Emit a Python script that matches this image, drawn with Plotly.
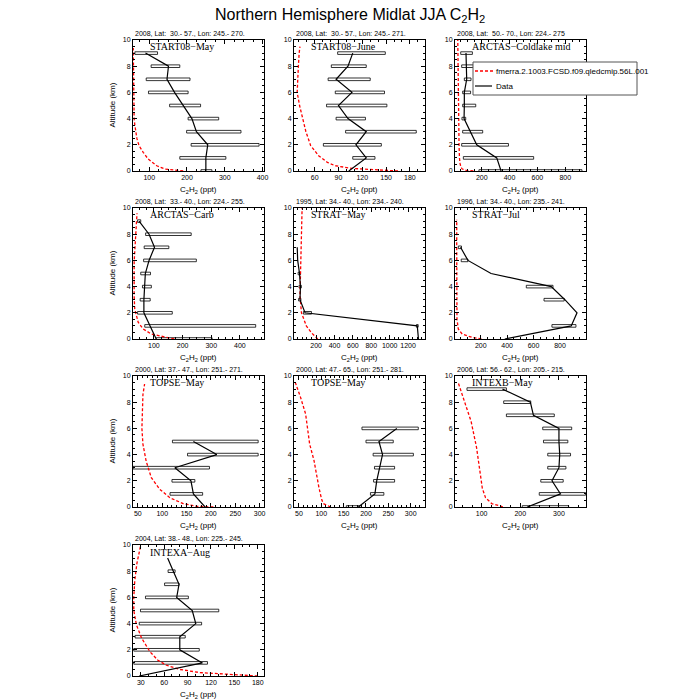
import plotly.graph_objects as go

TITLE = "Northern Hemisphere Midlat JJA C<sub>2</sub>H<sub>2</sub>"
MODEL_NAME = "fmerra.2.1003.FCSD.f09.qledcmip.56L.001"
DATA_NAME = "Data"
XTITLE = "C<sub>2</sub>H<sub>2</sub> (ppt)"
YTITLE = "Altitude (km)"

alt_levels = [0, 1, 2, 3, 4, 5, 6, 7, 8, 9]

# ---- Panel 1: START08-May
p1_label = "START08\u2212May"
p1_sub = "2008, Lat:  30.- 57., Lon: 245.- 270."
p1_data = [250, 250, 255, 225, 213, 189, 167, 147, 151, 90]
p1_lo = [237, 181, 211, 199, 203, 154, 98, 92, 105, 62]
p1_hi = [266, 303, 391, 343, 284, 236, 203, 208, 181, 122]
p1_model_alt = [0, 0.15, 0.4, 0.92, 1.43, 1.94, 2.45, 2.96, 3.47, 3.98, 5, 6, 8.57, 9.39]
p1_model = [190, 142, 120, 97, 84, 73, 67.6, 64, 62, 60, 59.5, 58.6, 57.7, 57.7]

# ---- Panel 2: START08-June
p2_label = "START08\u2212June"
p2_sub = "2008, Lat:  30.- 57., Lon: 245.- 271."
p2_data = [103, 125, 112, 125, 102, 90, 107, 87, 102, 108]
p2_lo = [None, 108, 71, 99, 87, 75, 86, 77, 81, 89]
p2_hi = [None, 136, 144, 188, 124, 151, 148, 130, 125, 149]
p2_model_alt = [0, 0.08, 0.2, 0.4, 0.66, 1.17, 1.94, 3, 4, 5, 6, 7, 8, 9, 9.5]
p2_model = [165, 140, 107, 86, 76, 65, 55, 49, 45, 41, 38, 38.5, 39.5, 40.5, 41.5]

# ---- Panel 3: ARCTAS-Coldlake mid
p3_label = "ARCTAS\u2212Coldlake mid"
p3_sub = "2008, Lat:  50.- 70., Lon: 224.- 275"
p3_data = [339, 308, 164, 116, 73, 75, 75, 92, 87, 87]
p3_lo = [180, 68, 56, 63, 58, 63, 63, 75, 56, 49]
p3_hi = [920, 573, 392, 207, 85, 157, 120, 123, 140, 133]
p3_model_alt = [0, 0.05, 0.15, 0.3, 0.6, 1, 2, 4, 6, 8, 10]
p3_model = [140, 90, 60, 50, 44, 40, 37, 34, 32, 30, 28]

# ---- Panel 4: ARCTAS-Carb
p4_label = "ARCTAS\u2212Carb"
p4_sub = "2008, Lat:  33.- 40., Lon: 224.- 255."
p4_data = [108, 87, 65, 65, 68, 70, 83, 102, 83, 48]
p4_lo = [108, 68, 43, 52, 60, 54, 64, 66, 71, 43]
p4_hi = [303, 455, 164, 87, 91, 88, 248, 152, 230, 54]
p4_model_alt = [0, 0.13, 0.38, 0.77, 1.28, 2.3, 3.3, 5.9, 8.4, 9.6]
p4_model = [171, 142, 91, 62, 45, 33, 31, 31, 37, 41]

# ---- Panel 5: STRAT-May
p5_label = "STRAT\u2212May"
p5_sub = "1995, Lat: 34.- 40., Lon: 234.- 240."
p5_data = [1313, 1300, 80, 25, 30, 20, 0, -5, None, None]
p5_lo = [None, 1290, 62, 10, 15, 5, None, None, None, None]
p5_hi = [None, 1310, 150, 35, 40, 30, None, None, None, None]
p5_model_alt = [0, 0.13, 0.5, 1.0, 2.0, 3.3, 5.9, 8, 10]
p5_model = [218, 200, 147, 94, 41, 25, 34, 42, 48]

# ---- Panel 6: STRAT-Jul
p6_label = "STRAT\u2212Jul"
p6_sub = "1996, Lat: 34.- 40., Lon: 235.- 241."
p6_data = [382, 885, 929, 837, 734, 278, 103, 47, None, None]
p6_lo = [None, 739, None, 679, 545, None, 52, 30, None, None]
p6_hi = [None, 921, None, 832, 747, None, 103, 54, None, None]
p6_model_alt = [0, 0.13, 0.38, 0.77, 1.5, 3, 5, 7, 9.1]
p6_model = [205, 132, 59, 30, 20, 18, 18, 18, 18]

# ---- Panel 7: TOPSE-May (37-47N)
p7_label = "TOPSE\u2212May"
p7_sub = "2000, Lat: 37.- 47., Lon: 251.- 271."
p7_data = [188, 164, 159, 126, 212, 164, None, None, None, None]
p7_lo = [None, 116, 120, 40, 152, 121, None, None, None, None]
p7_hi = [None, 183, 167, 197, 297, 297, None, None, None, None]
p7_model_alt = [0, 0.05, 0.26, 0.71, 1.35, 2.24, 3.5, 4.8, 6.0, 8.57, 9.39]
p7_model = [205, 171, 143, 115.6, 95, 77.6, 67, 60.4, 58.3, 60.4, 63.8]

# ---- Panel 8: TOPSE-May (47-65N)
p8_label = "TOPSE\u2212May"
p8_sub = "2000, Lat: 47.- 65., Lon: 251.- 281."
p8_data = [183, 220, 224, 231, 237, 229, 269, None, None, None]
p8_lo = [156, 210, 217, 219, 216, 200, 191, None, None, None]
p8_hi = [186, 240, 264, 264, 306, 261, 317, None, None, None]
p8_model_alt = [0, 0.05, 0.26, 0.59, 1.48, 3.57, 4.8, 7.1, 8.37, 9.59]
p8_model = [121, 117, 104.5, 100.7, 94.8, 83.6, 74, 65, 53.7, 41]

# ---- Panel 9: INTEXB-May
p9_label = "INTEXB\u2212May"
p9_sub = "2006, Lat: 56.- 62., Lon: 205.- 215."
p9_data = [218, 304, 282, 300, 302, 300, 300, 234, 226, 154]
p9_lo = [205, 249, 253, 271, 271, 260, 258, 164, 157, 62]
p9_hi = [325, 369, 311, 318, 330, 323, 333, 288, 227, 164]
p9_model_alt = [0, 0.05, 0.26, 0.71, 1.43, 2.76, 4.54, 6.53, 8.06, 9.46]
p9_model = [155, 151, 126, 110, 101.7, 95, 86.8, 72.7, 56, 39.7]

# ---- Panel 10: INTEXA-Aug
p10_label = "INTEXA\u2212Aug"
p10_sub = "2004, Lat: 38.- 48., Lon: 225.- 245."
p10_data = [27.9, 109, 80, 80, 100.5, 96, 76, 79, 71.7, 64.4]
p10_lo = [None, 21, 21, 22.7, 28, 29.6, 36, 60.5, 65, None]
p10_hi = [None, 115.5, 105, 87, 108, 130, 91, 79, 74, None]
p10_model_alt = [0, 0.1, 0.26, 0.5, 0.82, 1.2, 1.86, 2.9, 3.9, 5, 6, 7.3, 8.6, 9.9]
p10_model = [180, 149, 106, 80, 63, 52, 41.6, 31, 24.4, 21, 21, 22.3, 25, 29.6]

# x-axis ranges, tick labels and minor spacing for each panel
x_ranges = [[57, 404], [34, 199], [8, 949], [27, 484], [-40, 1384],
            [5, 997], [40, 309], [39, 332], [31, 370], [20, 188]]
x_ticks = [[100, 200, 300, 400], [60, 90, 120, 150, 180], [200, 400, 600, 800],
           [100, 200, 300, 400], [200, 400, 600, 800, 1000, 1200], [200, 400, 600, 800],
           [50, 100, 150, 200, 250, 300], [50, 100, 150, 200, 250, 300],
           [100, 200, 300], [30, 60, 90, 120, 150, 180]]
x_minor = [25, 10, 50, 25, 50, 50, 10, 10, 25, 10]
y_ticks = [0, 2, 4, 6, 8, 10]

panels = [
    (p1_label, p1_sub, p1_data, p1_lo, p1_hi, p1_model_alt, p1_model),
    (p2_label, p2_sub, p2_data, p2_lo, p2_hi, p2_model_alt, p2_model),
    (p3_label, p3_sub, p3_data, p3_lo, p3_hi, p3_model_alt, p3_model),
    (p4_label, p4_sub, p4_data, p4_lo, p4_hi, p4_model_alt, p4_model),
    (p5_label, p5_sub, p5_data, p5_lo, p5_hi, p5_model_alt, p5_model),
    (p6_label, p6_sub, p6_data, p6_lo, p6_hi, p6_model_alt, p6_model),
    (p7_label, p7_sub, p7_data, p7_lo, p7_hi, p7_model_alt, p7_model),
    (p8_label, p8_sub, p8_data, p8_lo, p8_hi, p8_model_alt, p8_model),
    (p9_label, p9_sub, p9_data, p9_lo, p9_hi, p9_model_alt, p9_model),
    (p10_label, p10_sub, p10_data, p10_lo, p10_hi, p10_model_alt, p10_model),
]

# page geometry (page pixels); the page body has an 8px margin
OFF = 8
FW, FH = 692, 692
col_left = [133, 294, 455]
row_top = [40, 208, 376, 545]
pw, ph = 131, 131
SANS = "Liberation Sans, Arial, sans-serif"
SERIF = "Liberation Serif, Times New Roman, serif"


def px(xp):
    return (xp - OFF) / FW


def py(yp):
    return 1 - (yp - OFF) / FH


fig = go.Figure()
annotations = []
shapes = []
layout_axes = {}

for i, (label, sub, dat, lo, hi, malt, mval) in enumerate(panels):
    r, c = divmod(i, 3)
    n = i + 1
    xa = "x" if n == 1 else f"x{n}"
    ya = "y" if n == 1 else f"y{n}"
    xkey = "xaxis" if n == 1 else f"xaxis{n}"
    ykey = "yaxis" if n == 1 else f"yaxis{n}"
    left = col_left[c]
    top = row_top[r]

    # error boxes
    by, bx, bb = [], [], []
    for a, l, h in zip(alt_levels, lo, hi):
        if l is not None and h is not None:
            by.append(a)
            bb.append(l)
            bx.append(h - l)
    fig.add_trace(go.Bar(y=by, x=bx, base=bb, orientation="h", width=0.2,
                         marker=dict(color="white", line=dict(color="black", width=0.8)),
                         xaxis=xa, yaxis=ya, showlegend=False, hoverinfo="skip"))
    # model profile
    fig.add_trace(go.Scatter(x=mval, y=malt, mode="lines", name=MODEL_NAME,
                             line=dict(color="red", width=1.3, dash="3px,2px"),
                             xaxis=xa, yaxis=ya, showlegend=False))
    # data profile
    dx = [v for v in dat if v is not None]
    dy = [a for a, v in zip(alt_levels, dat) if v is not None]
    fig.add_trace(go.Scatter(x=dx, y=dy, mode="lines", name=DATA_NAME,
                             line=dict(color="black", width=1.2),
                             xaxis=xa, yaxis=ya, showlegend=False))

    layout_axes[xkey] = dict(
        domain=[px(left), px(left + pw)], range=x_ranges[i], anchor=ya,
        tickmode="array", tickvals=x_ticks[i],
        ticks="inside", ticklen=4, tickwidth=1, tickcolor="black",
        showline=True, linecolor="black", linewidth=1, mirror="ticks",
        showgrid=False, zeroline=False,
        minor=dict(ticks="inside", ticklen=2, tick0=0, dtick=x_minor[i],
                   tickcolor="black", showgrid=False),
        tickfont=dict(size=7, family=SANS, color="black"))
    layout_axes[ykey] = dict(
        domain=[py(top + ph), py(top)], range=[0, 10], anchor=xa,
        tickmode="array", tickvals=y_ticks,
        ticks="inside", ticklen=4, tickwidth=1, tickcolor="black",
        showline=True, linecolor="black", linewidth=1, mirror="ticks",
        showgrid=False, zeroline=False,
        minor=dict(ticks="inside", ticklen=2, tick0=0, dtick=0.5,
                   tickcolor="black", showgrid=False),
        tickfont=dict(size=7, family=SANS, color="black"))

    xdom = f"{xa} domain"
    ydom = f"{ya} domain"
    annotations.append(dict(text=sub.replace("  ", " \u00a0"), xref=xdom, yref=ydom,
                            x=0, y=1, xanchor="left",
                            yanchor="bottom", yshift=1, showarrow=False,
                            font=dict(size=7, family=SANS, color="black")))
    annotations.append(dict(text=label, xref=xdom, yref=ydom, x=15 / pw, y=1,
                            xanchor="left", yanchor="middle", yshift=-7, showarrow=False,
                            font=dict(size=10, family=SERIF, color="black")))
    annotations.append(dict(text=XTITLE, xref=xdom, yref=ydom, x=0.5, y=0,
                            xanchor="center", yanchor="top", yshift=-12, showarrow=False,
                            font=dict(size=8, family=SANS, color="black")))
    if c == 0:
        annotations.append(dict(text=YTITLE, xref="paper", yref=ydom, x=px(112), y=0.5,
                                xanchor="center", yanchor="middle", textangle=-90,
                                showarrow=False,
                                font=dict(size=8, family=SANS, color="black")))

annotations.append(dict(text=TITLE, xref="paper", yref="paper", x=px(350), y=py(16),
                        xanchor="center", yanchor="middle", showarrow=False,
                        font=dict(size=16, family=SANS, color="black")))

# legend box drawn in the top-right panel
shapes.append(dict(type="rect", xref="paper", yref="paper", x0=px(473), x1=px(637),
                   y0=py(95), y1=py(62), fillcolor="white",
                   line=dict(color="#555555", width=1), layer="above"))
shapes.append(dict(type="line", xref="paper", yref="paper", x0=px(475), x1=px(493),
                   y0=py(71), y1=py(71), line=dict(color="red", width=1.3, dash="3px,2px"),
                   layer="above"))
shapes.append(dict(type="line", xref="paper", yref="paper", x0=px(475), x1=px(492),
                   y0=py(86), y1=py(86), line=dict(color="black", width=1.2),
                   layer="above"))
annotations.append(dict(text=MODEL_NAME, xref="paper", yref="paper", x=px(494), y=py(71),
                        xanchor="left", yanchor="middle", showarrow=False,
                        font=dict(size=8, family=SANS, color="black")))
annotations.append(dict(text=DATA_NAME, xref="paper", yref="paper", x=px(494), y=py(86),
                        xanchor="left", yanchor="middle", showarrow=False,
                        font=dict(size=8, family=SANS, color="black")))

fig.update_layout(
    width=FW, height=FH, margin=dict(l=0, r=0, t=0, b=0, autoexpand=False),
    paper_bgcolor="white", plot_bgcolor="white",
    showlegend=False, barmode="overlay",
    annotations=annotations, shapes=shapes,
    **layout_axes,
)

fig.write_html("out.html")
